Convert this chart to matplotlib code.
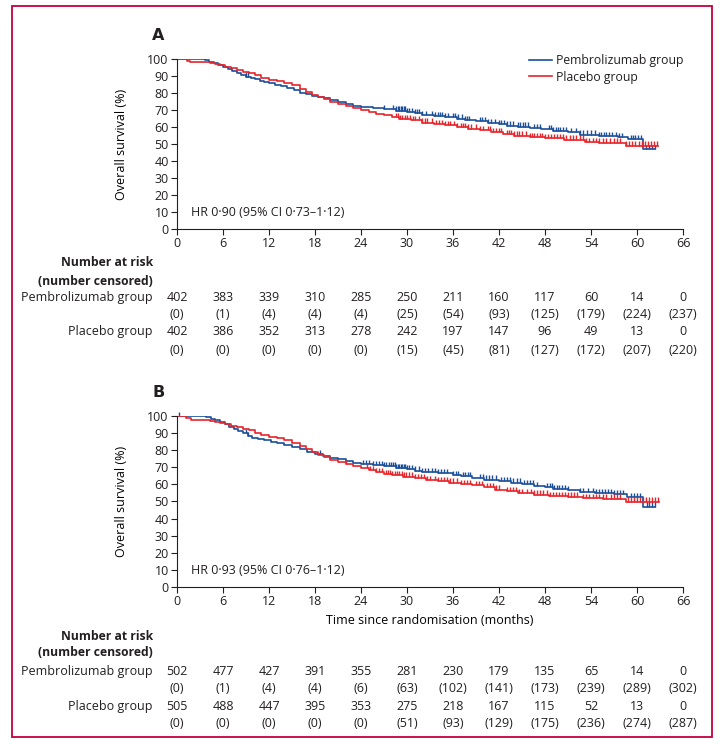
import numpy as np
import matplotlib
matplotlib.use("Agg")
import matplotlib.pyplot as plt
from matplotlib.transforms import blended_transform_factory
from matplotlib.patches import Rectangle

plt.rcParams['font.family'] = ['Open Sans', 'DejaVu Sans']
plt.rcParams['text.color'] = '#231f20'
plt.rcParams['axes.edgecolor'] = '#231f20'
plt.rcParams['xtick.color'] = '#231f20'
plt.rcParams['ytick.color'] = '#231f20'

blue = '#1a4f9c'
red = '#e8242b'
frame_col = '#c4003a'

months = list(range(0, 67, 6))

# ---- panel A: Kaplan-Meier steps (months, % surviving)
a_pem_t = [0, 3.6, 4.2, 4.8, 5.4, 6.0, 6.6, 7.2, 7.8, 8.4, 9.0, 9.6, 10.2, 10.8, 11.4, 12.0,
           12.8, 13.6, 14.4, 15.2, 16.0, 16.8, 17.6, 18.4, 19.2, 20.0, 21.0, 22.0, 23.0, 24.0,
           25.5, 27.0, 28.5, 30.0, 31.0, 32.0, 33.5, 35.0, 36.5, 37.5, 39.0, 40.5, 42.0, 43.0,
           44.5, 46.0, 47.5, 49.0, 51.0, 52.5, 55.0, 57.5, 58.8, 60.8, 62.3]
a_pem_s = [100, 99.3, 98.4, 97.4, 96.5, 95.5, 94.3, 93.2, 92.0, 90.8, 89.6, 88.9, 88.0, 87.2,
           86.4, 85.7, 85.0, 84.0, 82.8, 81.6, 80.2, 79.2, 78.4, 77.6, 76.8, 75.8, 74.8, 73.6,
           72.6, 71.6, 71.0, 70.5, 69.6, 68.6, 68.0, 67.0, 66.4, 65.8, 65.0, 64.2, 63.5, 62.5,
           61.5, 60.8, 60.2, 59.4, 58.6, 57.4, 56.8, 55.5, 54.6, 54.2, 53.0, 47.0, 47.0]
a_pla_t = [0, 1.3, 1.7, 4.3, 5.0, 5.6, 6.2, 7.0, 7.8, 8.6, 9.4, 10.2, 11.0, 12.0, 13.0, 14.0,
           15.0, 16.0, 16.8, 17.6, 18.4, 19.2, 20.0, 21.0, 22.0, 23.0, 24.0, 25.0, 26.0, 27.0,
           28.0, 29.0, 30.5, 32.0, 33.5, 35.0, 36.5, 38.0, 39.5, 41.0, 42.5, 44.0, 46.0, 48.0,
           50.5, 53.2, 55.0, 58.5, 62.8]
a_pla_s = [100, 99.0, 98.0, 97.4, 96.8, 96.2, 95.4, 94.6, 93.6, 92.6, 91.8, 90.4, 89.0, 87.8,
           86.9, 85.8, 84.6, 82.6, 80.8, 79.0, 77.4, 76.2, 74.8, 73.4, 72.2, 71.0, 69.8, 68.6,
           67.6, 66.8, 65.6, 64.8, 64.0, 62.6, 61.6, 61.0, 60.0, 59.0, 58.0, 57.0, 56.0, 55.0,
           54.2, 53.4, 52.6, 51.2, 50.8, 49.0, 49.0]
a_pem_cens = [9.0, 9.3, 27.0, 28.2, 28.5, 28.8, 29.0, 29.2, 29.4, 29.6, 29.8, 30.0, 30.3, 30.6,
              31.0, 31.3, 31.6, 32.0, 32.5, 33.2, 33.6, 34.0, 34.3, 34.6, 35.0, 35.4, 36.0, 36.3,
              36.6, 37.2, 37.5, 37.8, 38.1, 39.5, 39.8, 40.2, 40.6, 41.0, 41.5, 42.0, 42.3, 42.7,
              43.0, 43.4, 43.8, 44.5, 44.8, 45.1, 45.4, 45.8, 46.5, 47.0, 47.3, 48.5, 48.8, 49.1,
              49.4, 49.7, 50.0, 50.4, 50.8, 51.4, 52.0, 52.5, 53.0, 53.5, 54.0, 54.5, 55.0, 55.3,
              55.7, 56.0, 56.4, 56.8, 57.2, 57.6, 58.0, 59.2, 59.5, 59.8, 60.1, 60.5, 61.2, 61.5,
              62.0, 62.3]
a_pla_cens = [28.5, 28.8, 29.1, 29.4, 29.7, 30.0, 30.4, 30.8, 31.0, 31.5, 32.0, 32.3, 32.6, 33.2,
              33.8, 34.2, 34.5, 35.0, 35.3, 35.6, 36.1, 36.5, 37.0, 37.3, 37.6, 38.0, 38.3, 39.0,
              39.5, 39.9, 40.5, 40.8, 41.2, 41.6, 42.0, 42.3, 43.0, 43.3, 43.6, 44.0, 44.3, 44.6,
              45.0, 45.5, 46.0, 46.3, 46.6, 47.0, 47.3, 47.6, 48.0, 48.4, 48.8, 49.2, 49.6, 50.0,
              50.4, 50.8, 51.2, 51.6, 52.0, 52.5, 53.0, 53.4, 53.8, 54.2, 54.6, 55.0, 55.5, 56.0,
              56.5, 57.0, 57.4, 57.8, 58.6, 59.0, 59.4, 59.8, 60.2, 60.6, 61.0, 61.4, 61.8, 62.2,
              62.6]
a_pem_risk = [402, 383, 339, 310, 285, 250, 211, 160, 117, 60, 14, 0]
a_pem_cn = [0, 1, 4, 4, 4, 25, 54, 93, 125, 179, 224, 237]
a_pla_risk = [402, 386, 352, 313, 278, 242, 197, 147, 96, 49, 13, 0]
a_pla_cn = [0, 0, 0, 0, 0, 15, 45, 81, 127, 172, 207, 220]

# ---- panel B
b_pem_t = [0, 3.8, 4.4, 5.0, 5.6, 6.2, 6.8, 7.4, 8.0, 8.6, 9.2, 9.8, 10.6, 11.4, 12.2, 13.0,
           14.0, 15.0, 16.0, 17.0, 18.0, 19.0, 20.0, 21.0, 22.0, 23.0, 24.0, 25.5, 27.0, 28.5,
           30.0, 31.0, 32.0, 34.0, 36.0, 37.0, 38.5, 40.0, 42.0, 43.5, 45.0, 46.5, 48.0, 49.0,
           51.0, 52.5, 54.5, 57.0, 58.7, 60.8, 62.3]
b_pem_s = [100, 99.2, 98.3, 97.4, 96.3, 95.2, 93.8, 92.6, 91.4, 89.8, 88.4, 87.4, 86.5, 85.7,
           84.9, 84.2, 83.2, 82.0, 80.6, 79.2, 77.9, 76.8, 75.6, 74.6, 73.6, 72.8, 72.0, 71.2,
           70.6, 69.6, 68.8, 68.0, 67.0, 66.4, 65.6, 64.8, 63.6, 62.8, 61.8, 61.0, 60.0, 59.0,
           58.2, 57.2, 56.6, 55.4, 54.8, 54.4, 52.4, 47.0, 47.0]
b_pla_t = [0, 1.2, 1.8, 4.3, 5.0, 5.6, 6.2, 7.0, 7.8, 8.6, 9.4, 10.2, 11.0, 12.0, 13.0, 14.0,
           15.0, 16.0, 16.8, 17.6, 18.4, 19.2, 20.0, 21.0, 22.0, 23.0, 24.0, 25.0, 26.0, 27.0,
           28.0, 29.5, 31.0, 32.5, 34.0, 35.5, 37.0, 38.5, 40.0, 41.5, 43.0, 44.5, 46.5, 48.5,
           51.0, 53.0, 55.5, 58.6, 62.9]
b_pla_s = [100, 98.8, 97.8, 97.2, 96.6, 95.9, 95.2, 94.4, 93.4, 92.6, 91.8, 90.2, 88.9, 88.0,
           87.0, 85.8, 84.5, 82.4, 80.6, 78.8, 77.0, 75.8, 74.5, 73.0, 71.8, 70.6, 69.4, 68.3,
           67.2, 66.2, 65.4, 64.6, 63.6, 62.6, 61.8, 61.0, 60.2, 59.4, 58.2, 57.0, 56.0, 55.0,
           54.0, 53.2, 52.8, 52.0, 51.6, 49.9, 49.9]
b_pem_cens = [0.2, 9.0, 9.3, 18.7, 24.2, 24.6, 25.0, 25.5, 26.0, 26.3, 26.7, 27.0, 27.3, 27.6,
              27.9, 28.2, 28.4, 28.6, 28.8, 29.0, 29.2, 29.4, 29.6, 29.8, 30.0, 30.3, 30.6, 31.0,
              31.5, 32.0, 32.4, 32.8, 33.2, 33.6, 34.0, 34.4, 34.8, 35.2, 36.0, 36.4, 36.7, 37.3,
              37.6, 37.9, 38.2, 39.5, 39.9, 40.3, 40.7, 41.1, 41.6, 42.2, 42.6, 43.0, 43.4, 43.8,
              44.4, 44.8, 45.2, 45.6, 46.0, 46.4, 47.0, 48.3, 48.6, 48.9, 49.2, 49.5, 49.8, 50.2,
              50.6, 51.0, 52.6, 53.0, 53.6, 54.2, 54.6, 55.0, 55.4, 55.8, 56.2, 56.6, 57.0, 57.4,
              57.8, 58.2, 59.2, 59.6, 60.0, 60.4, 61.3, 61.6, 62.0, 62.3]
b_pla_cens = [22.0, 24.8, 25.2, 25.6, 26.0, 26.4, 26.8, 27.2, 27.5, 27.8, 28.1, 28.4, 28.7, 29.0,
              29.3, 29.6, 29.9, 30.2, 30.6, 31.0, 31.4, 31.8, 32.2, 32.6, 33.0, 33.6, 34.0, 34.4,
              34.8, 35.2, 35.6, 36.0, 36.5, 37.0, 37.4, 37.8, 38.2, 39.0, 39.4, 39.8, 40.4, 40.8,
              41.2, 41.6, 42.0, 43.0, 43.4, 43.8, 44.2, 44.6, 45.0, 45.6, 46.2, 46.6, 47.0, 47.4,
              47.8, 48.2, 48.6, 49.0, 49.4, 49.8, 50.2, 50.6, 51.0, 51.4, 51.8, 52.2, 53.0, 53.4,
              53.8, 54.2, 54.6, 55.0, 55.6, 56.0, 56.6, 57.0, 57.4, 57.8, 58.8, 59.2, 59.6, 60.0,
              60.4, 60.8, 61.2, 61.6, 62.0, 62.4, 62.8]
b_pem_risk = [502, 477, 427, 391, 355, 281, 230, 179, 135, 65, 14, 0]
b_pem_cn = [0, 1, 4, 4, 6, 63, 102, 141, 173, 239, 289, 302]
b_pla_risk = [505, 488, 447, 395, 353, 275, 218, 167, 115, 52, 13, 0]
b_pla_cn = [0, 0, 0, 0, 0, 51, 93, 129, 175, 236, 274, 287]

fs = 9.0

fig = plt.figure(figsize=(7.22, 7.45), dpi=100)


def km(ax, t, s, cens, col, label):
    ax.step(t, s, where='post', color=col, lw=1.2, label=label)
    t = np.array(t)
    s = np.array(s)
    c = np.array(cens)
    idx = np.searchsorted(t, c, side='right') - 1
    y = s[idx]
    # censoring ticks
    ax.vlines(c, y, y + 2.5, color=col, lw=1.0, clip_on=False)


def panel(rect, letter, curves, hr_text, rows, row_y, xlabel=False):
    ax = fig.add_axes(rect)
    for t, s, cens, col, lab in curves:
        km(ax, t, s, cens, col, lab)
    ax.set_xlim(0, 66)
    ax.set_ylim(0, 100)
    ax.set_xticks(months)
    ax.set_yticks(range(0, 101, 10))
    ax.tick_params(labelsize=fs, length=4, width=0.8, pad=2)
    ax.spines['top'].set_visible(False)
    ax.spines['right'].set_visible(False)
    ax.spines['left'].set_linewidth(0.8)
    ax.spines['bottom'].set_linewidth(0.8)
    ax.set_ylabel('Overall survival (%)', fontsize=fs)
    ax.yaxis.set_label_coords(-0.097, 0.5)
    ax.text(1.8, 9.5, hr_text, fontsize=fs, va='center')
    fig.text(ax.get_position().x0 - 0.026, ax.get_position().y1 + 0.032, letter,
             fontsize=11.5, fontweight='bold', ha='center', va='center', family='DejaVu Sans')
    if xlabel:
        ax.set_xlabel('Time since randomisation (months)', fontsize=fs, labelpad=4)

    # number at risk table under the panel
    tr = blended_transform_factory(ax.transData, fig.transFigure)
    lab_x = 0.2119
    fig.text(lab_x, row_y[0], 'Number at risk', fontsize=fs - 0.3, fontweight='bold', ha='right', va='center')
    fig.text(lab_x, row_y[1], '(number censored)', fontsize=fs - 0.3, fontweight='bold', ha='right', va='center')
    fig.text(lab_x, row_y[2], 'Pembrolizumab group', fontsize=fs, ha='right', va='center')
    fig.text(lab_x, row_y[4], 'Placebo group', fontsize=fs, ha='right', va='center')
    pem_risk, pem_cn, pla_risk, pla_cn = rows
    for m, r1, c1, r2, c2 in zip(months, pem_risk, pem_cn, pla_risk, pla_cn):
        ax.text(m, row_y[2], str(r1), transform=tr, fontsize=fs, ha='center', va='center')
        ax.text(m, row_y[3], '(%d)' % c1, transform=tr, fontsize=fs, ha='center', va='center')
        ax.text(m, row_y[4], str(r2), transform=tr, fontsize=fs, ha='center', va='center')
        ax.text(m, row_y[5], '(%d)' % c2, transform=tr, fontsize=fs, ha='center', va='center')
    return ax


axA = panel([0.2452, 0.6926, 0.7008, 0.2282], 'A',
            [(a_pem_t, a_pem_s, a_pem_cens, blue, 'Pembrolizumab group'),
             (a_pla_t, a_pla_s, a_pla_cens, red, 'Placebo group')],
            'HR 0·90 (95% CI 0·73–1·12)',
            (a_pem_risk, a_pem_cn, a_pla_risk, a_pla_cn),
            [0.647, 0.6228, 0.6013, 0.5772, 0.5544, 0.5302])
axA.legend(loc='upper right', bbox_to_anchor=(1.0, 1.03), frameon=False, fontsize=fs - 0.2,
           handlelength=1.9, handletextpad=0.3, labelspacing=0.3, borderpad=0, borderaxespad=0)

axB = panel([0.2452, 0.2121, 0.7008, 0.2295], 'B',
            [(b_pem_t, b_pem_s, b_pem_cens, blue, 'Pembrolizumab group'),
             (b_pla_t, b_pla_s, b_pla_cens, red, 'Placebo group')],
            'HR 0·93 (95% CI 0·76–1·12)',
            (b_pem_risk, b_pem_cn, b_pla_risk, b_pla_cn),
            [0.1463, 0.1235, 0.0993, 0.0752, 0.0523, 0.0282], xlabel=True)

# thin coloured frame around the whole figure
fig.patches.append(Rectangle((0.0166, 0.0107), 0.9695, 0.9812, transform=fig.transFigure,
                             fill=False, edgecolor=frame_col, lw=1.3))

fig.savefig('out.png', dpi=100)
